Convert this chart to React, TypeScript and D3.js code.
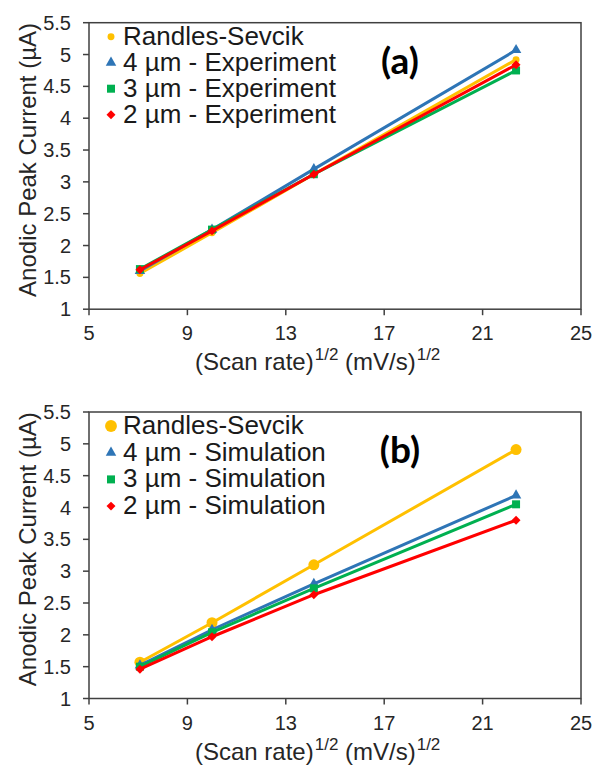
import React from 'react';
import * as d3 from 'd3';

// x = square root of the scan rate (50, 100, 200, 500 mV/s)
const scanRoot = [7.07, 10, 14.14, 22.36];

const xTicks = [5, 9, 13, 17, 21, 25];
const yTicks = [1, 1.5, 2, 2.5, 3, 3.5, 4, 4.5, 5, 5.5];

// panel (a) – experiment
const rsA = [1.56, 2.2, 3.12, 4.92];
const exp4 = [1.6, 2.25, 3.2, 5.07];
const exp3 = [1.63, 2.25, 3.12, 4.75];
const exp2 = [1.62, 2.23, 3.12, 4.84];

// panel (b) – simulation
const rsB = [1.57, 2.19, 3.1, 4.91];
const sim4 = [1.52, 2.08, 2.8, 4.19];
const sim3 = [1.5, 2.04, 2.73, 4.05];
const sim2 = [1.46, 1.97, 2.63, 3.8];

const namesA = ['Randles-Sevcik', '4 µm - Experiment', '3 µm - Experiment', '2 µm - Experiment'];
const namesB = ['Randles-Sevcik', '4 µm - Simulation', '3 µm - Simulation', '2 µm - Simulation'];

const colors = ['#FFC000', '#2E75B6', '#00B050', '#FF0000'];
// last one is a square turned 45deg, like the Excel diamond
const symbols = [d3.symbolCircle, d3.symbolTriangle, d3.symbolSquare, d3.symbolSquare];
const rotations = [0, 0, 0, 45];

const font = '"Liberation Sans", Arial, sans-serif';
const axisColor = '#404040';

const left = 89;
const right = 581;

type PanelProps = {
  top: number;
  series: number[][];
  names: string[];
  letter: string;
  circleSize: number;
  legendCircleSize: number;
  legendStep: number;
};

function Panel({ top, series, names, letter, circleSize, legendCircleSize, legendStep }: PanelProps) {
  const bottom = top + 286.5;
  const x = d3.scaleLinear().domain([5, 25]).range([left, right]);
  const y = d3.scaleLinear().domain([1, 5.5]).range([bottom, top]);

  const line = d3.line<number>()
    .x((d, i) => x(scanRoot[i]))
    .y(d => y(d));

  const sizes = [circleSize, 48, 64, 40];
  const legendSizes = [legendCircleSize, 48, 64, 40];

  return (
    <g>
      {/* frame */}
      <rect x={left} y={top} width={right - left} height={bottom - top}
        fill="none" stroke={axisColor} strokeWidth={1.5} />

      {/* y ticks */}
      {yTicks.map(t => (
        <g key={'y' + t}>
          <line x1={left - 6} x2={left} y1={y(t)} y2={y(t)} stroke={axisColor} strokeWidth={1.5} />
          <text x={left - 18} y={y(t) + 7} textAnchor="end" fontSize={20} fill="#262626">{t}</text>
        </g>
      ))}

      {/* x ticks */}
      {xTicks.map(t => (
        <g key={'x' + t}>
          <line x1={x(t)} x2={x(t)} y1={bottom} y2={bottom + 6} stroke={axisColor} strokeWidth={1.5} />
          <text x={x(t)} y={bottom + 31} textAnchor="middle" fontSize={20} fill="#262626">{t}</text>
        </g>
      ))}

      {/* series lines then markers */}
      {series.map((s, k) => (
        <g key={'s' + k}>
          <path d={line(s) || ''} fill="none" stroke={colors[k]} strokeWidth={3} />
          {s.map((v, i) => (
            <path key={i} transform={`translate(${x(scanRoot[i])},${y(v)}) rotate(${rotations[k]})`}
              d={d3.symbol(symbols[k], sizes[k])() || ''} fill={colors[k]} />
          ))}
        </g>
      ))}

      {/* legend */}
      {names.map((n, k) => {
        const by = top + 22 + k * legendStep;
        return (
          <g key={'l' + k}>
            <path transform={`translate(111,${by - 8}) rotate(${rotations[k]})`}
              d={d3.symbol(symbols[k], legendSizes[k])() || ''} fill={colors[k]} />
            <text x={123} y={by} fontSize={26} fill="#1a1a1a">{n}</text>
          </g>
        );
      })}

      <text x={400} y={top + 51} textAnchor="middle" fontSize={37} fontWeight="bold"
        fontFamily="Lato, 'Open Sans', sans-serif" fill="#000">{letter}</text>

      {/* axis titles */}
      <text transform={`translate(36,${(top + bottom) / 2 - 6}) rotate(-90)`} textAnchor="middle"
        fontSize={24} fill="#262626">Anodic Peak Current (µA)</text>
      <text x={195} y={bottom + 61} fontSize={24} fill="#262626">
        <tspan>(Scan rate)</tspan>
        <tspan fontSize={17} dy={-10} dx={1}>1/2</tspan>
        <tspan dy={10}>{' (mV/s)'}</tspan>
        <tspan fontSize={17} dy={-10} dx={1}>1/2</tspan>
      </text>
    </g>
  );
}

export default function App() {
  return (
    <svg width={595} height={769} style={{ position: 'absolute', left: 0, top: 0, background: '#fff' }}
      fontFamily={font}>
      <rect width={595} height={769} fill="#fff" />
      <Panel top={22.7} series={[rsA, exp4, exp3, exp2]} names={namesA} letter="(a)"
        circleSize={38} legendCircleSize={38} legendStep={26} />
      <Panel top={412} series={[rsB, sim4, sim3, sim2]} names={namesB} letter="(b)"
        circleSize={95} legendCircleSize={110} legendStep={26.7} />
    </svg>
  );
}
